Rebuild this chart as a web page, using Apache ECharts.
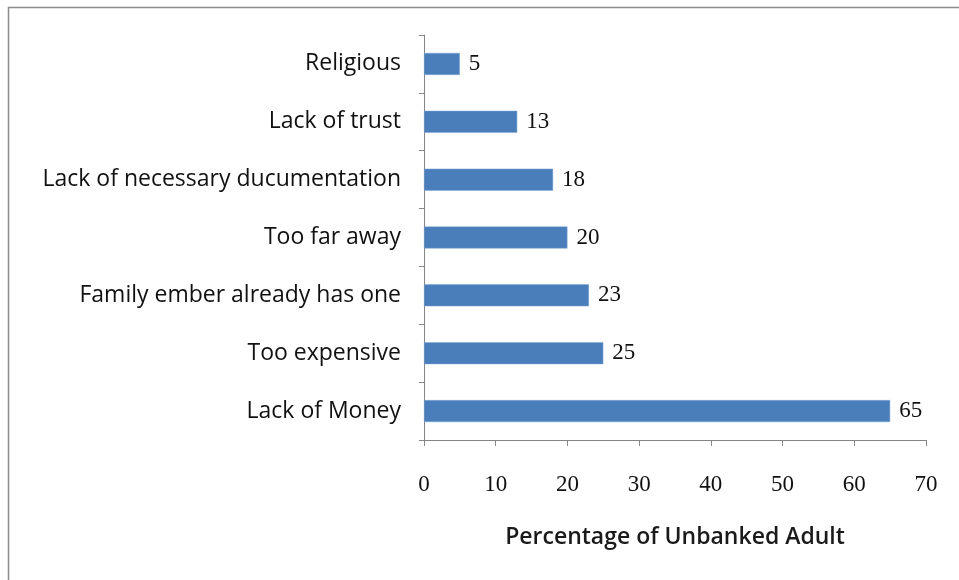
<!DOCTYPE html>
<html>
<head>
<meta charset="utf-8">
<script src="https://cdn.jsdelivr.net/npm/echarts@6/dist/echarts.min.js"></script>
<style>
  html, body { margin: 0; padding: 0; background: #fff; }
  #chart { width: 959px; height: 580px; }
</style>
</head>
<body>
<div id="chart"></div>
<script>
// Reasons for not having a bank account (bottom to top on the axis)
const categories = [
  'Lack of Money',
  'Too expensive',
  'Family ember already has one',
  'Too far away',
  'Lack of necessary ducumentation',
  'Lack of trust',
  'Religious'
];
const percentages = [65, 25, 23, 20, 18, 13, 5];
const xTicks = { min: 0, max: 70, interval: 10 };
const xAxisTitle = 'Percentage of Unbanked Adult';

const chart = echarts.init(document.getElementById('chart'), null, { renderer: 'canvas' });
const axisGray = '#868686';

chart.setOption({
  animation: false,
  backgroundColor: '#ffffff',
  graphic: [{
    type: 'rect',
    shape: { x: 8.5, y: 7.5, width: 1000, height: 1000 },
    style: { fill: 'none', stroke: '#8c8c8c', lineWidth: 1.5 },
    silent: true
  }],
  grid: { left: 424, right: 33, top: 35, bottom: 140, containLabel: false },
  xAxis: {
    type: 'value',
    min: xTicks.min,
    max: xTicks.max,
    interval: xTicks.interval,
    name: xAxisTitle,
    nameLocation: 'middle',
    nameGap: 86,
    nameTextStyle: { fontFamily: 'Open Sans', fontSize: 23, fontWeight: 600, color: '#1a1a1a' },
    axisLine: { show: true, lineStyle: { color: axisGray, width: 1 } },
    axisTick: { show: true, length: 6, lineStyle: { color: axisGray } },
    axisLabel: { margin: 33, fontFamily: 'Liberation Serif', fontSize: 23, color: '#111' },
    splitLine: { show: false }
  },
  yAxis: {
    type: 'category',
    data: categories,
    axisLine: { show: true, lineStyle: { color: axisGray, width: 1 } },
    axisTick: { show: true, length: 5, inside: false, lineStyle: { color: axisGray } },
    axisLabel: { margin: 23, fontFamily: 'Open Sans', fontSize: 23, color: '#111' }
  },
  series: [{
    type: 'bar',
    data: percentages,
    barWidth: 22,
    itemStyle: { color: '#4a7ebb', borderColor: '#7fa6d6', borderWidth: 0.5 },
    label: {
      show: true,
      position: 'right',
      distance: 9,
      fontFamily: 'Liberation Serif',
      fontSize: 23,
      color: '#111'
    }
  }]
});
</script>
</body>
</html>
